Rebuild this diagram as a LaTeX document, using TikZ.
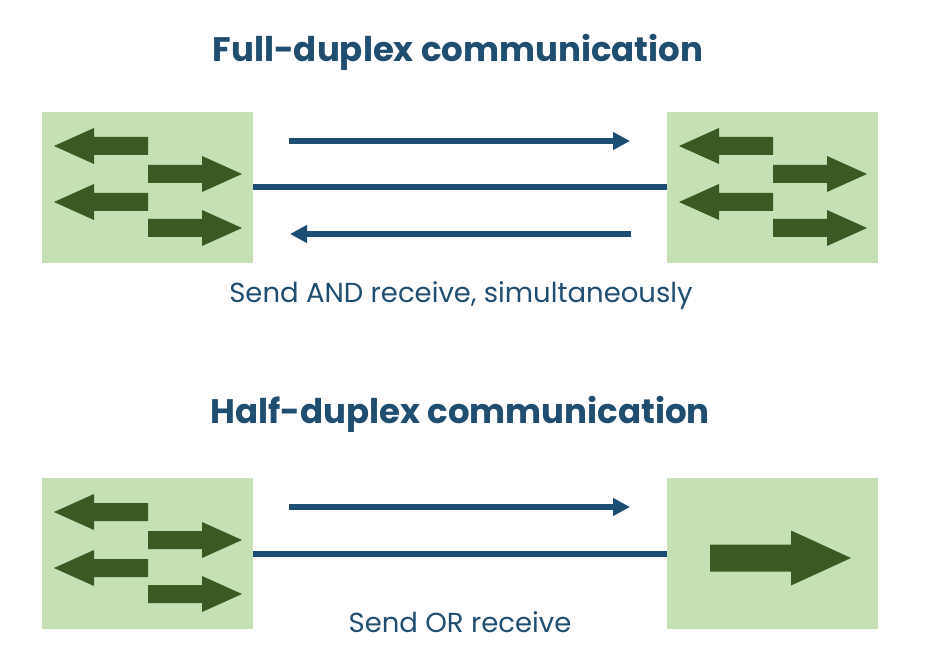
\documentclass[tikz,border=0pt]{standalone}
\usepackage{fontspec}
\setmainfont{Poppins}
\usetikzlibrary{arrows.meta}
\definecolor{boxgreen}{HTML}{C4E0B4}
\definecolor{darkgreen}{HTML}{3A5A24}
\definecolor{linkblue}{HTML}{1C4E74}
\definecolor{textblue}{HTML}{1F4E70}
\tikzset{
  devbox/.style={fill=boxgreen, draw=none, minimum width=211pt, minimum height=151pt, inner sep=0pt},
  link/.style={draw=linkblue, line width=6pt},
  flow/.style={draw=linkblue, line width=6pt, -{Triangle[length=17pt,width=17pt]}},
  garrow/.style={fill=darkgreen},
  titletext/.style={text=textblue, font=\bfseries\fontsize{34}{38}\selectfont},
  subtext/.style={text=textblue, font=\fontsize{27.5}{32}\selectfont},
}
\newcommand\grarr[3]{% tail x, y, direction
  \fill[garrow, shift={(#1,#2)}, xscale=#3] (0,-9) -- (54,-9) -- (54,-18) -- (94,0) -- (54,18) -- (54,9) -- (0,9) -- cycle;}
\newcommand\fourarrows[2]{% tail x, box top y
  \grarr{#1}{#2+34}{-1}
  \grarr{#1}{#2+62}{1}
  \grarr{#1}{#2+90}{-1}
  \grarr{#1}{#2+116}{1}}
\begin{document}
\begin{tikzpicture}[x=1pt,y=-1pt]
\useasboundingbox[fill=white] (0,0) rectangle (938,663);
% titles
\node[titletext] (t1) at (458,52) {Full-duplex communication};
\node[titletext] (t2) at (460,414) {Half-duplex communication};
% boxes
\node[devbox] (A) at (147.5,187.5) {};
\node[devbox] (B) at (772.5,187.5) {};
\node[devbox] (C) at (147.5,553.5) {};
\node[devbox] (D) at (772.5,553.5) {};
% green arrows
\fourarrows{148}{112}
\fourarrows{773}{112}
\fourarrows{148}{478}
\fill[garrow] (710,544.5) -- (791,544.5) -- (791,530.5) -- (851,558) -- (791,585.5) -- (791,571.5) -- (710,571.5) -- cycle;
% links
\draw[link] (A.east) -- (B.west);
\draw[link] (C.east) -- (D.west);
% flows
\coordinate (f1s) at (289,141); \coordinate (f1e) at (630,141);
\coordinate (f2s) at (631,234); \coordinate (f2e) at (290,234);
\coordinate (f3s) at (289,507); \coordinate (f3e) at (630,507);
\draw[flow] (f1s) -- (f1e);
\draw[flow] (f2s) -- (f2e);
\draw[flow] (f3s) -- (f3e);
% captions
\node[subtext] (s1) at (461,296) {Send AND receive, simultaneously};
\node[subtext] (s2) at (460,622) {Send OR receive};
\end{tikzpicture}
\end{document}
